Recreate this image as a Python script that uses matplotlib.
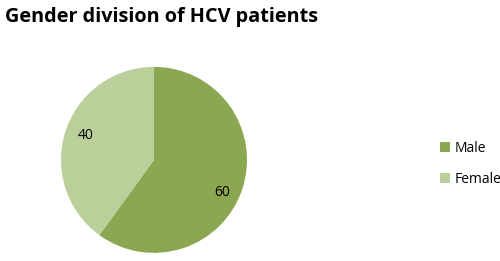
import matplotlib.pyplot as plt

# data
genders = ['Male', 'Female']
counts = [60, 40]
colors = ['#8BA751', '#BACF9A']

plt.rcParams['font.family'] = ['Open Sans', 'DejaVu Sans']

fig = plt.figure(figsize=(5, 2.61), dpi=100)
ax = fig.add_axes([0.122, 0.031, 0.372, 0.713])

wedges, texts = ax.pie(counts, colors=colors, startangle=90, counterclock=False,
                       labels=[str(c) for c in counts], labeldistance=0.8,
                       radius=1, textprops={'fontsize': 10, 'color': 'black'})
for t in texts:
    t.set_ha('center')
    t.set_va('center')
# the labels sit a little off the wedge middles in the original
x, y = texts[0].get_position()
texts[0].set_position((x - 0.03, y - 0.1))
x, y = texts[1].get_position()
texts[1].set_position((x + 0.03, y + 0.02))
ax.set_xlim(-1, 1)
ax.set_ylim(-1, 1)
ax.set_aspect('equal')

fig.text(0.01, 0.972, 'Gender division of HCV patients', fontsize=14.3,
         fontweight='bold', ha='left', va='top')

fig.legend(wedges, genders, loc='center left', bbox_to_anchor=(0.855, 0.372),
           frameon=False, fontsize=10, handlelength=0.7, handleheight=0.7,
           handletextpad=0.35, labelspacing=1.12)

fig.savefig('out.png', dpi=100)
